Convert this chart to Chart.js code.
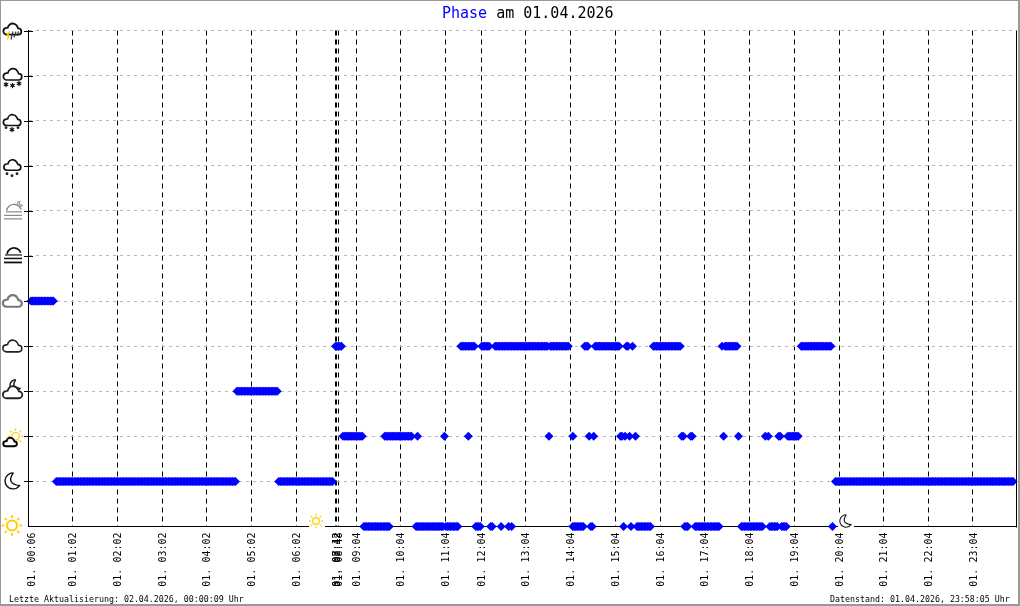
<!DOCTYPE html>
<html><head><meta charset="utf-8">
<style>html,body{margin:0;padding:0;background:#fff}canvas{display:block}</style>
<script src="https://cdn.jsdelivr.net/npm/chart.js@4"></script>
</head><body><canvas id="c" width="1020" height="606"></canvas>
<script>
const titleName = "Phase";
const titleRest = " am 01.04.2026";
const footerLeft = "Letzte Aktualisierung: 02.04.2026, 00:00:09 Uhr";
const footerRight = "Datenstand: 01.04.2026, 23:58:05 Uhr";
const sampleCount = 661.6;
const tickSamples = [2,29.8,59.9,90.1,119.5,149.7,179.8,206.3,206.9,207.9,220,249.4,279.6,303.7,333.2,363.3,393.4,423.6,453,483.2,513.3,543.4,572.9,603,633.1];
const tickLabels = ["01. 00:06","01. 01:02","01. 02:02","01. 03:02","01. 04:02","01. 05:02","01. 06:02","01. 07:42","01. 08:12","01. 08:48","01. 09:04","01. 10:04","01. 11:04","01. 12:04","01. 13:04","01. 14:04","01. 15:04","01. 16:04","01. 17:04","01. 18:04","01. 19:04","01. 20:04","01. 21:04","01. 22:04","01. 23:04"];
// sample numbers at which each sky phase was logged
const samplesSun = [225,226,227,228,229,230,231,232,233,234,235,236,237,238,239,240,241,242,260,261,262,263,264,265,266,267,268,269,270,271,272,273,274,275,276,277,278,280,281,282,283,284,285,286,287,288,300,301,302,303,310,311,317,322,324,365,366,367,368,369,370,371,372,377,378,399,404,408,409,410,411,412,413,414,415,416,417,440,441,442,447,448,449,450,451,452,453,454,455,456,457,458,459,460,461,462,463,478,479,480,481,482,483,484,485,486,487,488,489,490,491,492,497,498,499,500,501,502,505,506,507,508,539];
const samplesMoon = [19,20,21,22,23,24,25,26,27,28,29,30,31,32,33,34,35,36,37,38,39,40,41,42,43,44,45,46,47,48,49,50,51,52,53,54,55,56,57,58,59,60,61,62,63,64,65,66,67,68,69,70,71,72,73,74,75,76,77,78,79,80,81,82,83,84,85,86,87,88,89,90,91,92,93,94,95,96,97,98,99,100,101,102,103,104,105,106,107,108,109,110,111,112,113,114,115,116,117,118,119,120,121,122,123,124,125,126,127,128,129,130,131,132,133,134,135,136,137,138,139,168,169,170,171,172,173,174,175,176,177,178,179,180,181,182,183,184,185,186,187,188,189,190,191,192,193,194,195,196,197,198,199,200,201,202,203,204,541,542,543,544,545,546,547,548,549,550,551,552,553,554,555,556,557,558,559,560,561,562,563,564,565,566,567,568,569,570,571,572,573,574,575,576,577,578,579,580,581,582,583,584,585,586,587,588,589,590,591,592,593,594,595,596,597,598,599,600,601,602,603,604,605,606,607,608,609,610,611,612,613,614,615,616,617,618,619,620,621,622,623,624,625,626,627,628,629,630,631,632,633,634,635,636,637,638,639,640,641,642,643,644,645,646,647,648,649,650,651,652,653,654,655,656,657,658,659,660];
const samplesSunCloud = [211,212,213,214,215,216,217,218,219,220,221,222,223,224,239,240,241,242,243,244,245,246,247,248,249,250,251,252,253,254,255,256,257,261,279,295,349,365,376,379,397,398,400,403,407,438,439,444,445,466,476,494,496,503,504,509,510,511,512,513,514,515,516];
const samplesMoonCloud = [140,141,142,143,144,145,146,147,148,149,150,151,152,153,154,155,156,157,158,159,160,161,162,163,164,165,166,167];
const samplesCloud = [206,207,208,209,210,290,291,292,293,294,295,296,297,298,299,304,305,306,307,308,309,313,314,315,316,317,318,319,320,321,322,323,324,325,326,327,328,329,330,331,332,333,334,335,336,337,338,339,340,341,342,343,344,345,346,347,348,350,351,352,353,354,355,356,357,358,359,360,361,362,373,374,375,380,381,382,383,384,385,386,387,388,389,390,391,392,393,394,395,396,401,402,405,419,420,421,422,423,424,425,426,427,428,429,430,431,432,433,434,435,436,437,465,467,468,469,470,471,472,473,474,475,518,519,520,521,522,523,524,525,526,527,528,529,530,531,532,533,534,535,536,537,538];
const samplesOvercast = [2,3,4,5,6,7,8,9,10,11,12,13,14,15,16,17];

const points = [samplesSun,samplesMoon,samplesSunCloud,samplesMoonCloud,samplesCloud,samplesOvercast]
  .flatMap((list,level)=>list.map(x=>({x,y:level})));

const MONO = '"DejaVu Sans Mono", monospace';
const YEL = '#ffcc00';

function cloud(c,x,y,w,color,lw){
  const s=w/20;
  c.beginPath();
  c.arc(x+4*s,y+8.4*s,3.6*s,Math.PI/2,Math.PI*1.45);
  c.arc(x+10.5*s,y+5.4*s,5.4*s,Math.PI*1.05,Math.PI*1.85);
  c.arc(x+16.4*s,y+8.6*s,3.4*s,Math.PI*1.5,Math.PI/2);
  c.closePath();
  c.fillStyle='#fff';c.fill();
  c.strokeStyle=color;c.lineWidth=lw;c.stroke();
}
function sun(c,x,y,r,R,lw,rayLw){
  c.strokeStyle=YEL;
  c.lineWidth=lw;c.beginPath();c.arc(x,y,r,0,Math.PI*2);c.stroke();
  c.lineWidth=rayLw;
  for(let i=0;i<8;i++){
    const a=i*Math.PI/4;
    c.beginPath();
    c.moveTo(x+Math.cos(a)*(r+lw+0.6),y+Math.sin(a)*(r+lw+0.6));
    c.lineTo(x+Math.cos(a)*R,y+Math.sin(a)*R);
    c.stroke();
  }
}
function moon(c,x,y,r,color,lw){
  c.strokeStyle=color;c.lineWidth=lw;
  c.beginPath();
  c.arc(x,y,r,-Math.PI*0.48,Math.PI*0.2,true);
  c.quadraticCurveTo(x-r*0.9,y+r*0.35,x+r*0.04,y-r);
  c.stroke();
}
function star(c,x,y,r){
  c.strokeStyle='#111';c.lineWidth=1.1;
  for(let i=0;i<3;i++){
    const a=i*Math.PI/3+Math.PI/6;
    c.beginPath();c.moveTo(x-Math.cos(a)*r,y-Math.sin(a)*r);c.lineTo(x+Math.cos(a)*r,y+Math.sin(a)*r);c.stroke();
  }
  c.fillStyle='#111';c.fillRect(x-1.2,y-1.2,2.4,2.4);
}
function dot(c,x,y){c.fillStyle='#222';c.beginPath();c.arc(x,y,1.4,0,Math.PI*2);c.fill();}
function hline(c,x1,x2,y,color,lw){c.strokeStyle=color;c.lineWidth=lw;c.beginPath();c.moveTo(x1,y);c.lineTo(x2,y);c.stroke();}

const phaseIcons = [
 (c,y)=>sun(c,12,y-1,5,10.2,2,2),
 (c,y)=>moon(c,13,y-0.5,8,'#111',1.4),
 (c,y)=>{sun(c,15.5,y,3.8,8,1.2,1.2);cloud(c,3,y+1.5,14,'#000',1.9);},
 (c,y)=>{moon(c,15.5,y-6,5.5,'#222',1.5);cloud(c,2.5,y-5,20,'#222',1.8);},
 (c,y)=>cloud(c,2.5,y-6,19.5,'#222',1.6),
 (c,y)=>cloud(c,2.5,y-6,19.5,'#777',2.2),
 (c,y)=>{c.strokeStyle='#111';c.lineWidth=1.7;c.beginPath();c.arc(14,y-1,7,Math.PI*1.05,Math.PI*1.9);c.stroke();hline(c,5,22,y-1,'#111',1.2);hline(c,4,22,y+2.5,'#111',1.5);hline(c,4,22,y+6.5,'#111',1.8);},
 (c,y)=>{c.strokeStyle='#888';c.lineWidth=1.4;c.beginPath();c.arc(14,y+1,7.5,Math.PI*1.05,Math.PI*1.9);c.stroke();moon(c,20,y-7,2.6,'#999',1.2);hline(c,6,22,y+1,'#888',1.2);hline(c,4,22,y+4.5,'#888',1.2);hline(c,4,22,y+8,'#888',1.2);},
 (c,y)=>{cloud(c,3.5,y-6,17.5,'#111',1.7);dot(c,7,y+8);dot(c,12,y+10);dot(c,17,y+8);},
 (c,y)=>{cloud(c,3,y-6,18,'#111',1.7);dot(c,6,y+7);star(c,12,y+9,2.6);dot(c,18,y+7);},
 (c,y)=>{cloud(c,3,y-7,19,'#111',1.7);star(c,6,y+9,2.6);star(c,12.5,y+10,2.6);star(c,19,y+8,2.6);},
 (c,y)=>{cloud(c,3,y-7,18.5,'#111',1.8);
   c.fillStyle=YEL;c.beginPath();c.moveTo(8.5,y+1);c.lineTo(6,y+6);c.lineTo(8,y+6);c.lineTo(6.5,y+11);c.lineTo(10.5,y+4.5);c.lineTo(8.5,y+4.5);c.lineTo(10.5,y+1);c.closePath();c.fill();
   c.strokeStyle='#333';c.lineWidth=1.1;
   [[13,y+1,11,y+9],[16,y+1,14,y+7],[18.5,y+1,17,y+5]].forEach(l=>{c.beginPath();c.moveTo(l[0],l[1]);c.lineTo(l[2],l[3]);c.stroke();});}
];

const decorations = {
  id:'decorations',
  afterDraw(chart){
    const c=chart.ctx, {y:ys}=chart.scales, area=chart.chartArea;
    c.save();
    c.strokeStyle='#000';c.lineWidth=1;
    c.beginPath();c.moveTo(Math.round(area.right)+0.5,area.top);c.lineTo(Math.round(area.right)+0.5,area.bottom+1);c.stroke();
    phaseIcons.forEach((draw,level)=>{
      const y=ys.getPixelForValue(level);
      if(level>0){
        c.strokeStyle='#000';c.lineWidth=1;
        c.beginPath();c.moveTo(24,Math.round(y)+0.5);c.lineTo(33,Math.round(y)+0.5);c.stroke();
      }
      draw(c,y);
    });
    c.fillStyle='#fff';
    c.fillRect(309,513,16,15);
    c.fillRect(838,513,16,15);
    sun(c,316,521,3.4,7.2,1.2,1.2);
    moon(c,846,521,6.2,'#111',1.1);
    c.textBaseline='alphabetic';c.textAlign='left';
    c.font='15px '+MONO;
    c.fillStyle='#0000ff';c.fillText(titleName,442,18);
    c.fillStyle='#000';c.fillText(titleRest,442+c.measureText(titleName).width,18);
    c.font='8.3px '+MONO;
    c.fillText(footerLeft,9,602);
    c.fillText(footerRight,830,602);
    c.fillStyle='#999';
    c.fillRect(0,0,1020,1);c.fillRect(0,0,1,606);
    c.fillRect(1018,0,2,606);c.fillRect(0,604,1020,2);
    c.restore();
  }
};

new Chart(document.getElementById('c'),{
  type:'scatter',
  data:{datasets:[{
    data:points,
    showLine:false,
    pointStyle:'rectRot',
    pointRadius:4.5,
    pointHoverRadius:4.5,
    pointBorderWidth:0,
    backgroundColor:'#0000ff',
    borderColor:'#0000ff',
    clip:false
  }]},
  options:{
    responsive:false,animation:false,
    layout:{padding:{left:0,right:4,top:30.5,bottom:0}},
    plugins:{legend:{display:false},tooltip:{enabled:false},title:{display:false}},
    scales:{
      x:{
        type:'linear',min:0,max:sampleCount,
        afterBuildTicks:s=>{s.ticks=tickSamples.map(v=>({value:v}));},
        afterFit:s=>{s.height=79.5;},
        grid:{color:ctx=>ctx.index===0?'rgba(0,0,0,0)':'#000',lineWidth:1,drawTicks:false},
        border:{color:'#000',width:1,dash:[5,4]},
        ticks:{autoSkip:false,minRotation:90,maxRotation:90,padding:6,labelOffset:1,color:'#000',
          font:{family:MONO,size:10},
          callback:(v,i)=>tickLabels[i]}
      },
      y:{
        min:0,max:11,
        afterFit:s=>{s.width=28;},
        grid:{color:'#b8b8b8',lineWidth:1,drawTicks:false},
        border:{color:'#000',width:1,dash:[3,4]},
        ticks:{display:false,stepSize:1}
      }
    }
  },
  plugins:[decorations]
});
</script></body></html>
